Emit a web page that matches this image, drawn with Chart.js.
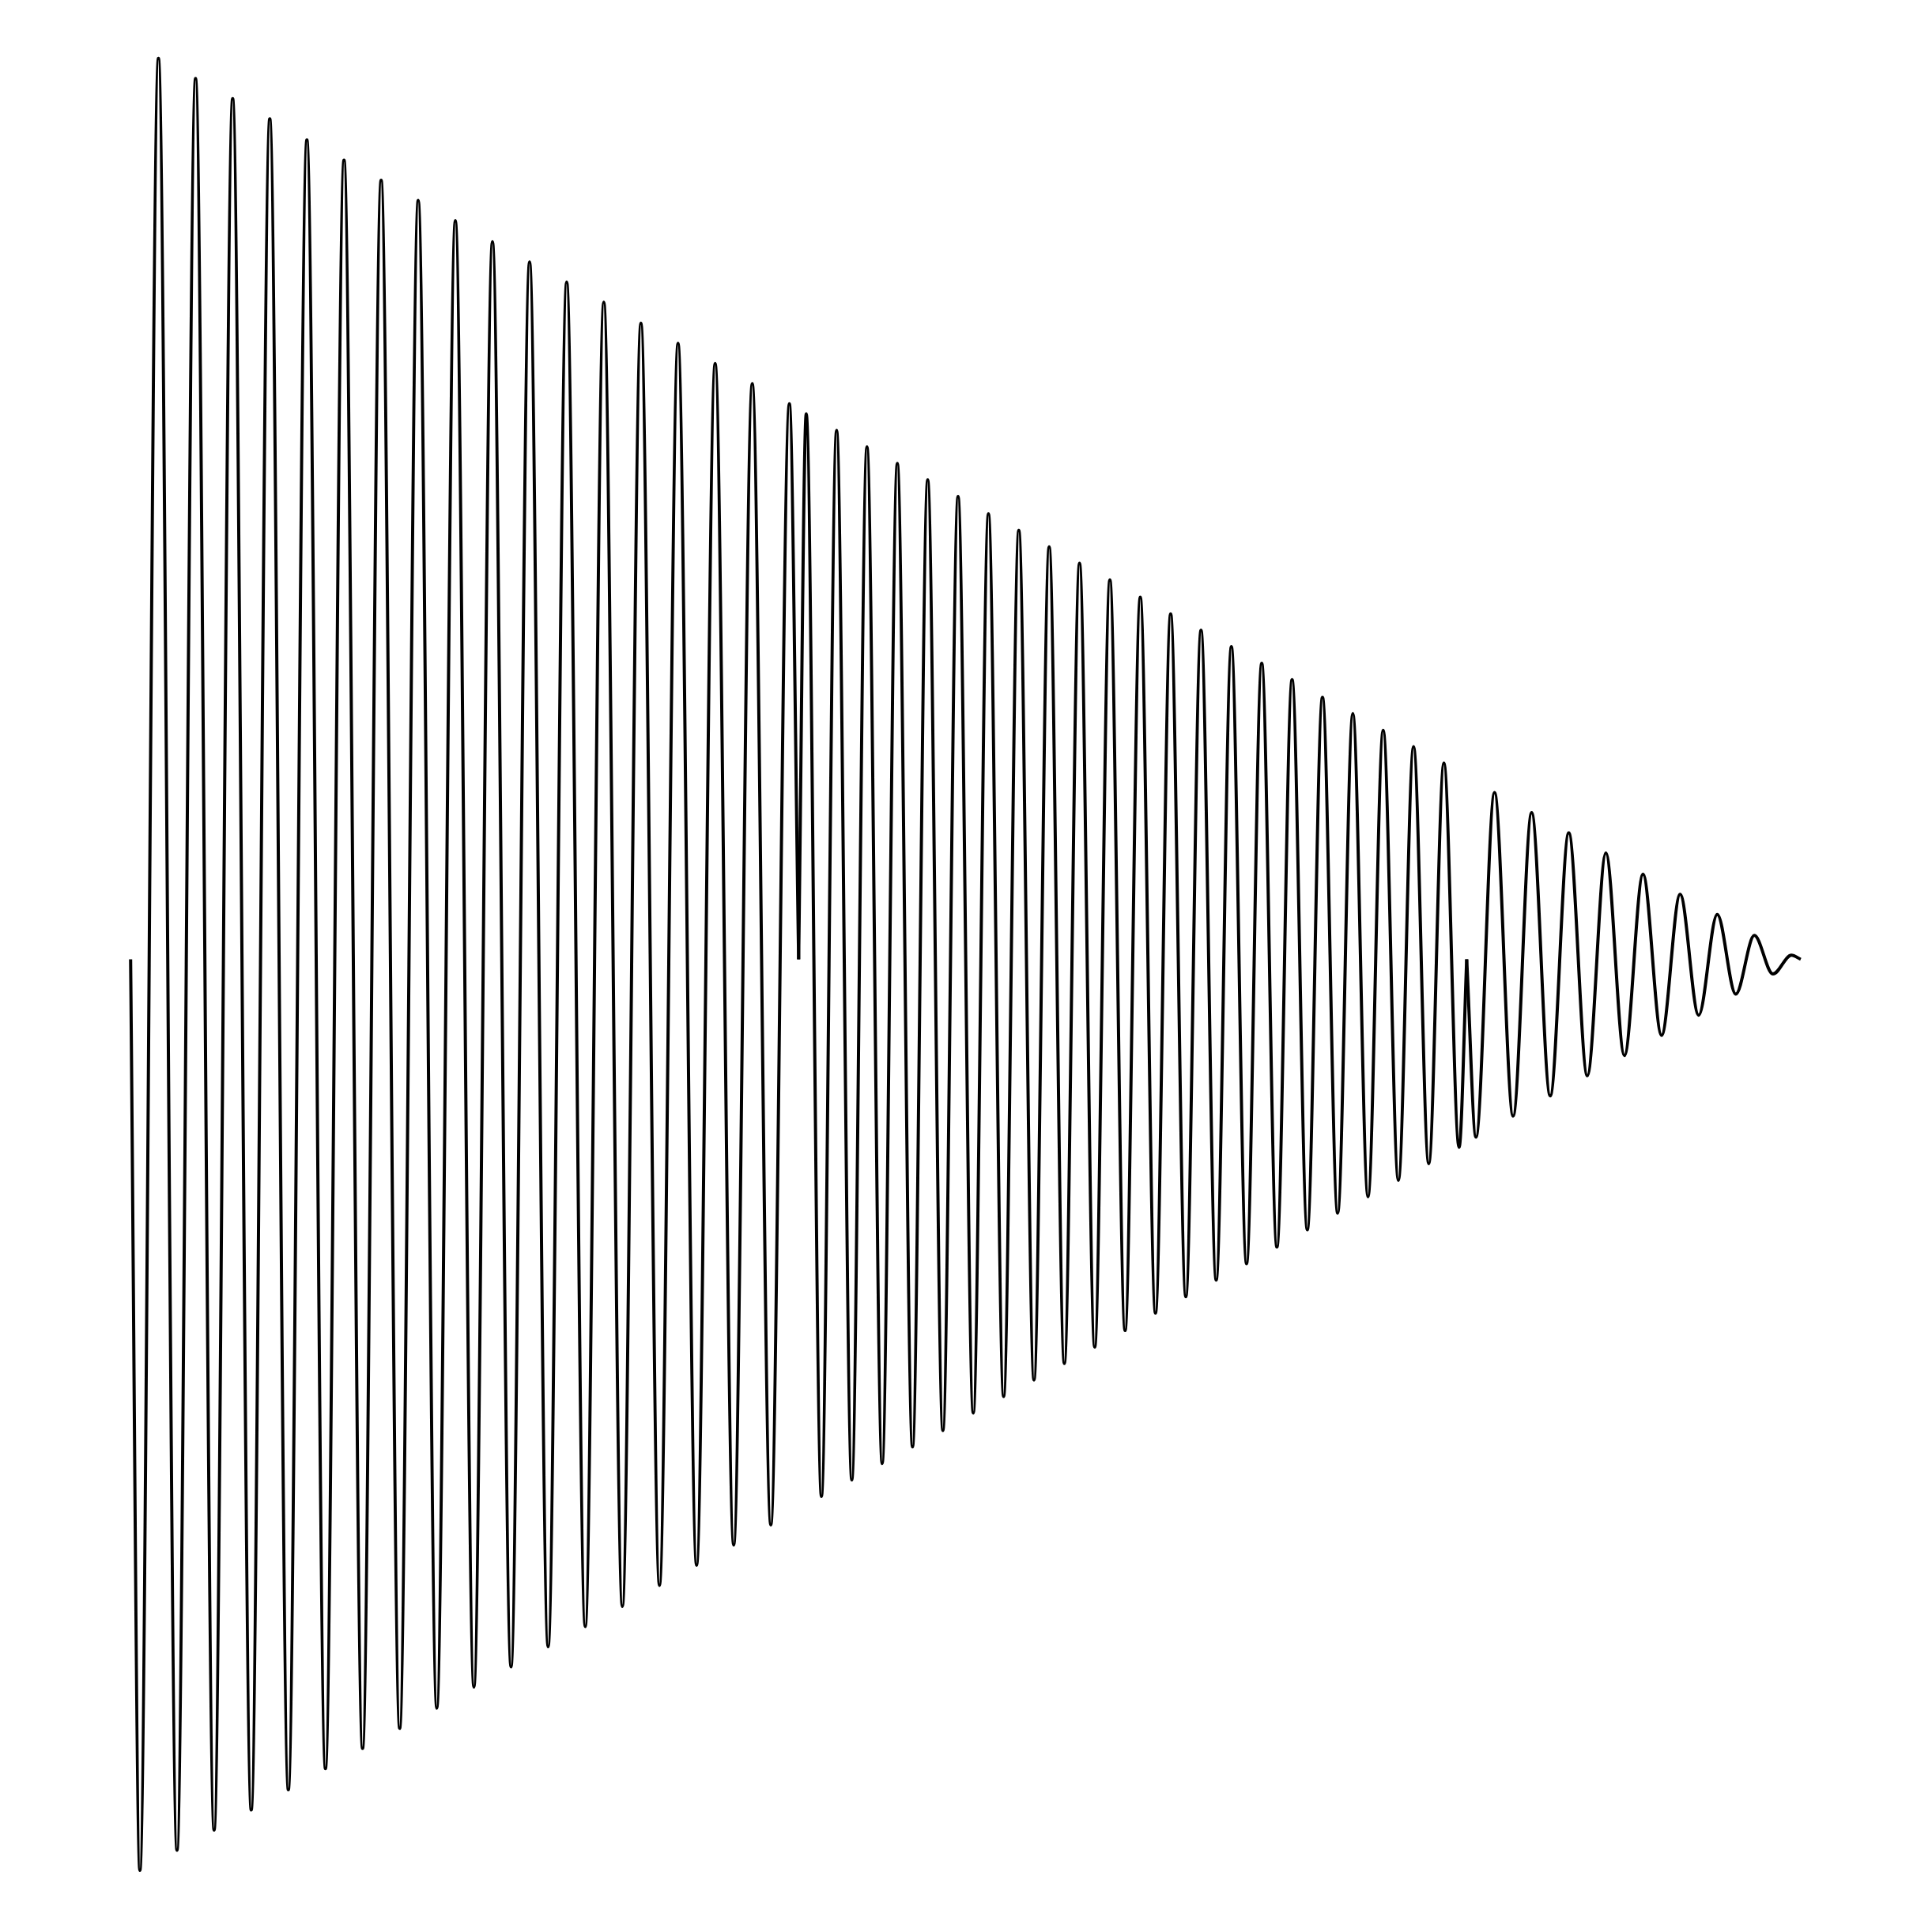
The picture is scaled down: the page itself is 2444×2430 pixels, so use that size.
<!DOCTYPE html>
<html>
<head>
<meta charset="utf-8">
<title>Damped signal</title>
<script src="https://cdn.jsdelivr.net/npm/chart.js@4/dist/chart.umd.min.js"></script>
<style>
  html, body { margin: 0; padding: 0; background: #ffffff; }
  #myChart { display: block; }
</style>
</head>
<body>
<canvas id="myChart" width="2444" height="2430"></canvas>
<script>
// time in ms, amplitude relative to the start amplitude (peaks and troughs)

// part 1: 18 cycles, starts going down
let seg1Time = [0, 0.25, 0.75, 1.25, 1.75, 2.25, 2.75, 3.25, 3.75, 4.25, 4.75, 5.25, 5.75, 6.25, 6.75,
  7.25, 7.75, 8.25, 8.75, 9.25, 9.75, 10.25, 10.75, 11.25, 11.75, 12.25, 12.75, 13.25, 13.75,
  14.25, 14.75, 15.25, 15.75, 16.25, 16.75, 17.25, 17.75, 18];
let seg1Amp = [0, -0.994, 0.983, -0.972, 0.961, -0.950, 0.939, -0.928, 0.917, -0.906, 0.894, -0.883, 0.872, -0.861, 0.850,
  -0.839, 0.828, -0.817, 0.806, -0.794, 0.783, -0.772, 0.761, -0.750, 0.739, -0.728, 0.717, -0.706, 0.694,
  -0.683, 0.672, -0.661, 0.650, -0.639, 0.628, -0.617, 0.606, 0];

// part 2: 22 cycles, starts going up
let seg2Time = [18, 18.205, 18.614, 19.023, 19.432, 19.841, 20.25, 20.659, 21.068, 21.477, 21.886,
  22.295, 22.705, 23.114, 23.523, 23.932, 24.341, 24.75, 25.159, 25.568, 25.977, 26.386, 26.795,
  27.205, 27.614, 28.023, 28.432, 28.841, 29.25, 29.659, 30.068, 30.477, 30.886, 31.295, 31.705,
  32.114, 32.523, 32.932, 33.341, 33.75, 34.159, 34.568, 34.977, 35.386, 35.795, 36];
let seg2Amp = [0, 0.595, -0.586, 0.577, -0.568, 0.559, -0.550, 0.541, -0.532, 0.523, -0.514,
  0.505, -0.495, 0.486, -0.477, 0.468, -0.459, 0.450, -0.441, 0.432, -0.423, 0.414, -0.405,
  0.395, -0.386, 0.377, -0.368, 0.359, -0.350, 0.341, -0.332, 0.323, -0.314, 0.305, -0.295,
  0.286, -0.277, 0.268, -0.259, 0.250, -0.241, 0.232, -0.223, 0.214, -0.205, 0];

// part 3: 9 cycles, starts going down, fades out
let seg3Time = [36, 36.25, 36.75, 37.25, 37.75, 38.25, 38.75, 39.25, 39.75, 40.25, 40.75,
  41.25, 41.75, 42.25, 42.75, 43.25, 43.75, 44.25, 44.75, 45];
let seg3Amp = [0, -0.194, 0.182, -0.171, 0.160, -0.149, 0.138, -0.127, 0.116, -0.105, 0.093,
  -0.083, 0.071, -0.061, 0.049, -0.038, 0.026, -0.016, 0.0045, 0];

const ctx = document.getElementById('myChart');

function makePoints(times, amps){
  let points = [];
  for(let i = 0; i < times.length; i++){
    points.push({ x: times[i], y: amps[i] });
  }
  return points;
}

function makeChartDataSet(times, amps, label){
  let chartDataSet = {
    label: label,
    data: makePoints(times, amps),
    borderColor: "#000000",
    borderWidth: 4,
    borderCapStyle: "butt",
    pointRadius: 0,
    fill: false,
    cubicInterpolationMode: "monotone",
    clip: false
  }
  return chartDataSet;
}

let dataSets = [
  makeChartDataSet(seg1Time, seg1Amp, "part 1"),
  makeChartDataSet(seg2Time, seg2Amp, "part 2"),
  makeChartDataSet(seg3Time, seg3Amp, "part 3")
];

new Chart(ctx, {
  type: "line",
  data: { datasets: dataSets },
  options: {
    responsive: false,
    animation: false,
    devicePixelRatio: 1,
    layout: { padding: 0 },
    plugins: {
      legend: { display: false },
      tooltip: { enabled: false },
      title: { display: false }
    },
    scales: {
      x: { type: "linear", min: -3.519, max: 48.537, display: false },
      y: { type: "linear", min: -1.0492, max: 1.0466, display: false }
    }
  }
});
</script>
</body>
</html>
